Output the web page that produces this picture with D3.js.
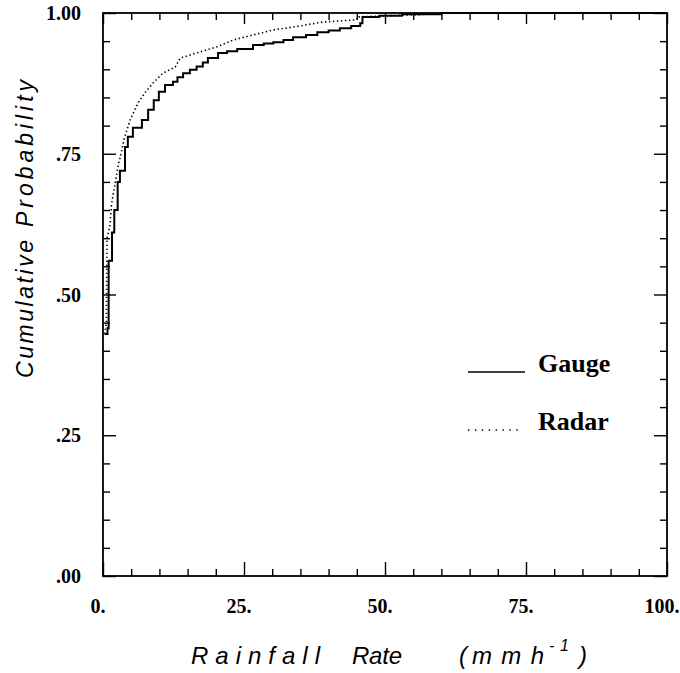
<!DOCTYPE html>
<html><head><meta charset="utf-8">
<script src="https://cdn.jsdelivr.net/npm/d3@7"></script>
<style>html,body{margin:0;padding:0;background:#fff;}svg{display:block;}</style>
</head><body>
<script>
// Data
const gaugeRate = [0.3, 0.8, 1.0, 1.6, 2.0, 2.6, 3.0, 3.9, 4.4, 5.3, 6.9, 8.0, 9.0, 9.9, 11.0, 12.4, 13.2, 14.2, 15.4, 16.6, 17.7, 18.6, 20.4, 22.0, 23.8, 26.6, 28.5, 30.2, 32.0, 33.7, 36.0, 38.0, 40.0, 42.0, 44.0, 45.6, 46.0, 49.0, 53.0, 60.0, 100.0];
const gaugeProb = [0.43, 0.44, 0.56, 0.61, 0.65, 0.70, 0.72, 0.762, 0.78, 0.796, 0.81, 0.828, 0.845, 0.86, 0.872, 0.878, 0.886, 0.893, 0.899, 0.905, 0.912, 0.92, 0.929, 0.932, 0.936, 0.943, 0.946, 0.948, 0.952, 0.957, 0.961, 0.966, 0.969, 0.973, 0.977, 0.982, 0.993, 0.995, 0.998, 1.0, 1.0];
const radarRate = [0.3, 0.6, 0.7, 1.2, 1.5, 2.2, 2.7, 3.2, 3.7, 4.8, 6.2, 7.4, 8.9, 10.6, 12.8, 13.7, 16.6, 20.2, 23.1, 26.6, 30.2, 33.7, 39.0, 45.0, 45.1, 50.0, 56.0, 60.0, 100.0];
const radarProb = [0.43, 0.45, 0.60, 0.62, 0.66, 0.70, 0.73, 0.75, 0.775, 0.81, 0.84, 0.858, 0.876, 0.893, 0.904, 0.92, 0.929, 0.94, 0.952, 0.961, 0.97, 0.975, 0.984, 0.988, 0.993, 0.995, 0.997, 1.0, 1.0];
const xTickValues = [0, 25, 50, 75, 100];
const xTickLabels = ["0.", "25.", "50.", "75.", "100."];
const yTickValues = [0, 0.25, 0.5, 0.75, 1.0];
const yTickLabels = [".00", ".25", ".50", ".75", "1.00"];
const seriesNames = ["Gauge", "Radar"];

const W = 680, H = 673;
const L = 103, R = 667, T = 13, B = 576;

const svg = d3.select("body").append("svg").attr("width", W).attr("height", H);
const x = d3.scaleLinear().domain([0, 100]).range([L, R]);
const y = d3.scaleLinear().domain([0, 1]).range([B, T]);

const serif = "'Liberation Serif','Times New Roman',serif";
const sans = "'Liberation Sans',Arial,sans-serif";

const xMinor = d3.range(0, 101, 5).filter(v => v % 25 !== 0);
const yMinor = d3.range(0, 1.0001, 0.05).map(v => +v.toFixed(2)).filter(v => Math.round(v * 100) % 25 !== 0);

function axisGroup(axis, tr) {
  const g = svg.append("g").attr("transform", tr).call(axis);
  g.select(".domain").remove();
  g.selectAll("line").attr("stroke", "#000").attr("stroke-width", 1.4);
  g.selectAll("text").remove();
  return g;
}
axisGroup(d3.axisTop(x).tickValues(xTickValues).tickSize(14), `translate(0,${B})`);
axisGroup(d3.axisTop(x).tickValues(xMinor).tickSize(7), `translate(0,${B})`);
axisGroup(d3.axisBottom(x).tickValues(xTickValues).tickSize(11), `translate(0,${T})`);
axisGroup(d3.axisBottom(x).tickValues(xMinor).tickSize(7), `translate(0,${T})`);
axisGroup(d3.axisRight(y).tickValues(yTickValues).tickSize(13), `translate(${L},0)`);
axisGroup(d3.axisRight(y).tickValues(yMinor).tickSize(7), `translate(${L},0)`);
axisGroup(d3.axisLeft(y).tickValues(yTickValues).tickSize(13), `translate(${R},0)`);
axisGroup(d3.axisLeft(y).tickValues(yMinor).tickSize(7), `translate(${R},0)`);

svg.append("rect").attr("x", L).attr("y", T).attr("width", R - L).attr("height", B - T)
  .attr("fill", "none").attr("stroke", "#000").attr("stroke-width", 1.8);

svg.append("g").selectAll("text").data(xTickValues).join("text")
  .attr("x", d => x(d) - 5).attr("y", 613)
  .attr("text-anchor", "middle")
  .attr("font-family", serif).attr("font-weight", "bold").attr("font-size", 20)
  .text((d, i) => xTickLabels[i]);
svg.append("g").selectAll("text").data(yTickValues).join("text")
  .attr("x", 81).attr("y", d => y(d) + 7)
  .attr("text-anchor", "end")
  .attr("font-family", serif).attr("font-weight", "bold").attr("font-size", 20)
  .text((d, i) => yTickLabels[i]);

const gaugeData = gaugeRate.map((v, i) => [v, gaugeProb[i]]);
const radarData = radarRate.map((v, i) => [v, radarProb[i]]);
const lineStep = d3.line().x(d => x(d[0])).y(d => y(d[1])).curve(d3.curveStepAfter);
const lineLin = d3.line().x(d => x(d[0])).y(d => y(d[1]));

svg.append("path").datum(radarData).attr("d", lineLin)
  .attr("fill", "none").attr("stroke", "#000").attr("stroke-width", 1.6)
  .attr("stroke-dasharray", "1.4,2.6");
svg.append("path").datum(gaugeData).attr("d", lineStep)
  .attr("fill", "none").attr("stroke", "#000").attr("stroke-width", 2);

svg.append("line").attr("x1", 468).attr("x2", 525).attr("y1", 372).attr("y2", 372)
  .attr("stroke", "#000").attr("stroke-width", 1.6);
svg.append("line").attr("x1", 468).attr("x2", 521).attr("y1", 430).attr("y2", 430)
  .attr("stroke", "#000").attr("stroke-width", 1.6).attr("stroke-dasharray", "1.4,5.5");
svg.append("text").attr("x", 538).attr("y", 372).attr("font-family", serif)
  .attr("font-weight", "bold").attr("font-size", 26).text(seriesNames[0]);
svg.append("text").attr("x", 538).attr("y", 430).attr("font-family", serif)
  .attr("font-weight", "bold").attr("font-size", 26).text(seriesNames[1]);

function word(txt, xx, yy, len, size) {
  const t = svg.append("text").attr("x", xx).attr("y", yy)
    .attr("font-family", sans).attr("font-style", "italic").attr("font-size", size)
    .text(txt);
  if (len) t.attr("textLength", len).attr("lengthAdjust", "spacing");
  return t;
}
word("Rainfall", 191, 664, 129, 24);
word("Rate", 352, 664, 50, 24);
word("(", 459, 664, null, 24);
word("mmh", 472, 664, 72, 24);
word("-1", 549, 651, 20, 16);
word(")", 579, 664, null, 24);

const yt = svg.append("g").attr("transform", "translate(33,0) rotate(-90)");
yt.append("text").attr("x", -378).attr("y", 0)
  .attr("font-family", sans).attr("font-style", "italic").attr("font-size", 23)
  .attr("textLength", 138).attr("lengthAdjust", "spacing").text("Cumulative");
yt.append("text").attr("x", -227).attr("y", 0)
  .attr("font-family", sans).attr("font-style", "italic").attr("font-size", 23)
  .attr("textLength", 147).attr("lengthAdjust", "spacing").text("Probability");
</script>
</body></html>
